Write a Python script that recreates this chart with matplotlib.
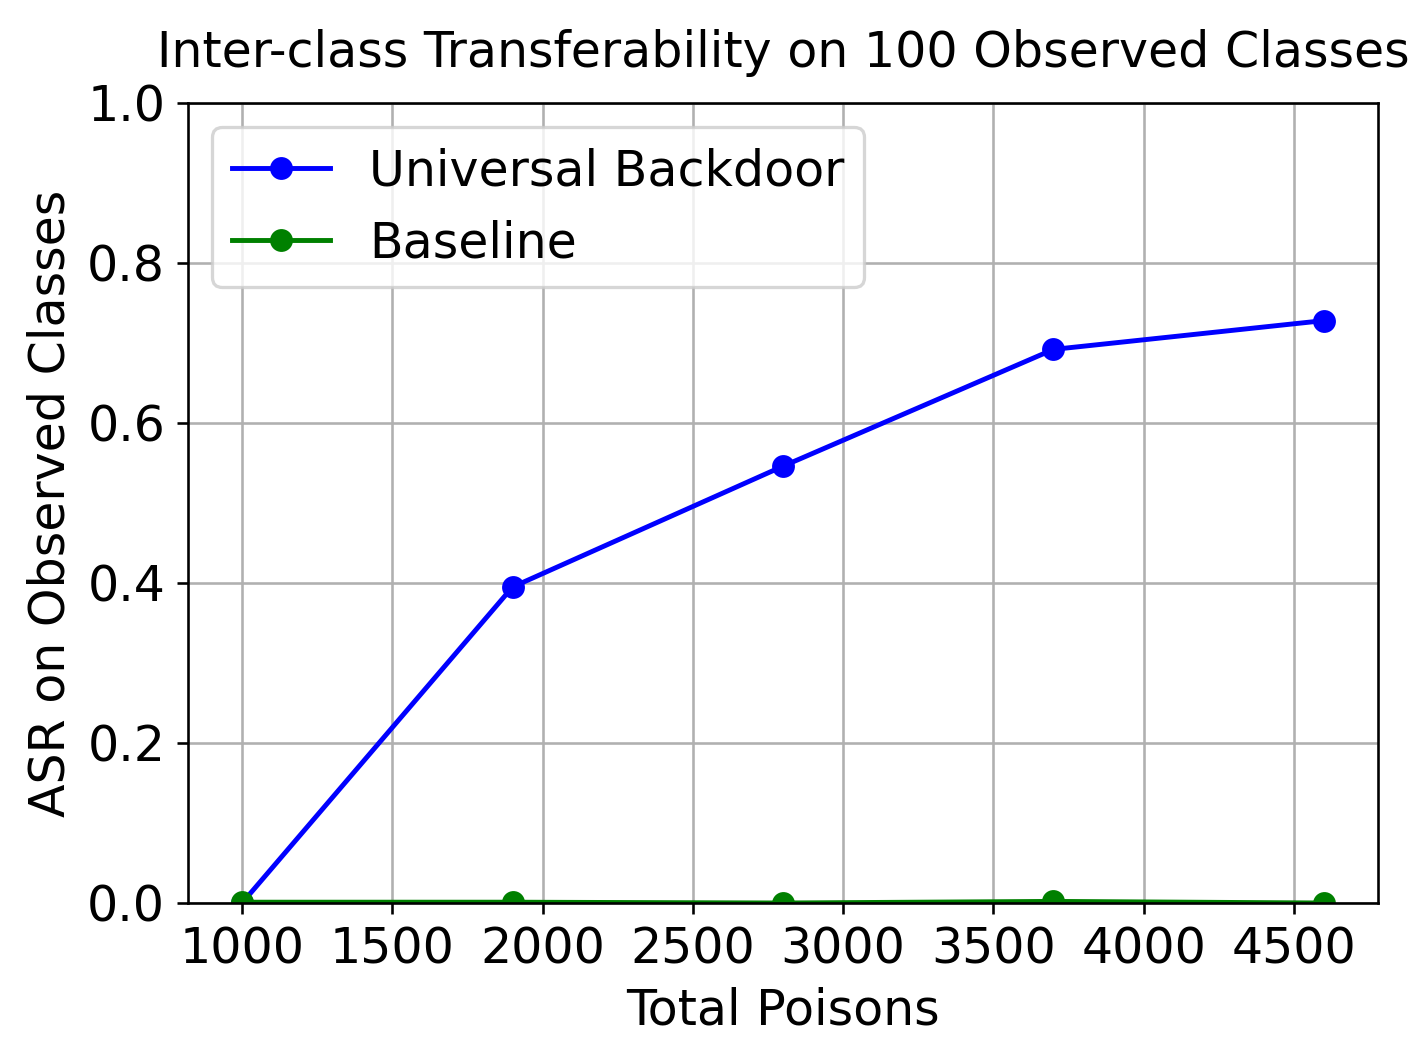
import matplotlib
matplotlib.use("Agg")
import matplotlib.pyplot as plt
from matplotlib.ticker import MultipleLocator

total_poisons = [1000, 1900, 2800, 3700, 4600]
universal_backdoor = [0.0, 0.395, 0.546, 0.692, 0.728]
baseline = [0.001, 0.001, 0.0, 0.002, 0.0]

fig = plt.figure(figsize=(1411/235, 1058/235), dpi=235)
ax = fig.add_axes([188/1411, 1-903/1058, (1378-188)/1411, 800/1058])
ax.plot(total_poisons, universal_backdoor, marker='o', color='blue', label='Universal Backdoor')
ax.plot(total_poisons, baseline, marker='o', color='green', label='Baseline')
ax.set_ylim(0, 1.0)
ax.xaxis.set_major_locator(MultipleLocator(500))
ax.grid(True)
ax.set_xlabel('Total Poisons', fontsize=15)
ax.set_ylabel('ASR on Observed Classes', fontsize=15)
ax.set_title('Inter-class Transferability on 100 Observed Classes', fontsize=15, pad=11)
ax.tick_params(labelsize=15)
ax.legend(fontsize=15, loc='upper left')
fig.savefig('out.png', dpi=235)
